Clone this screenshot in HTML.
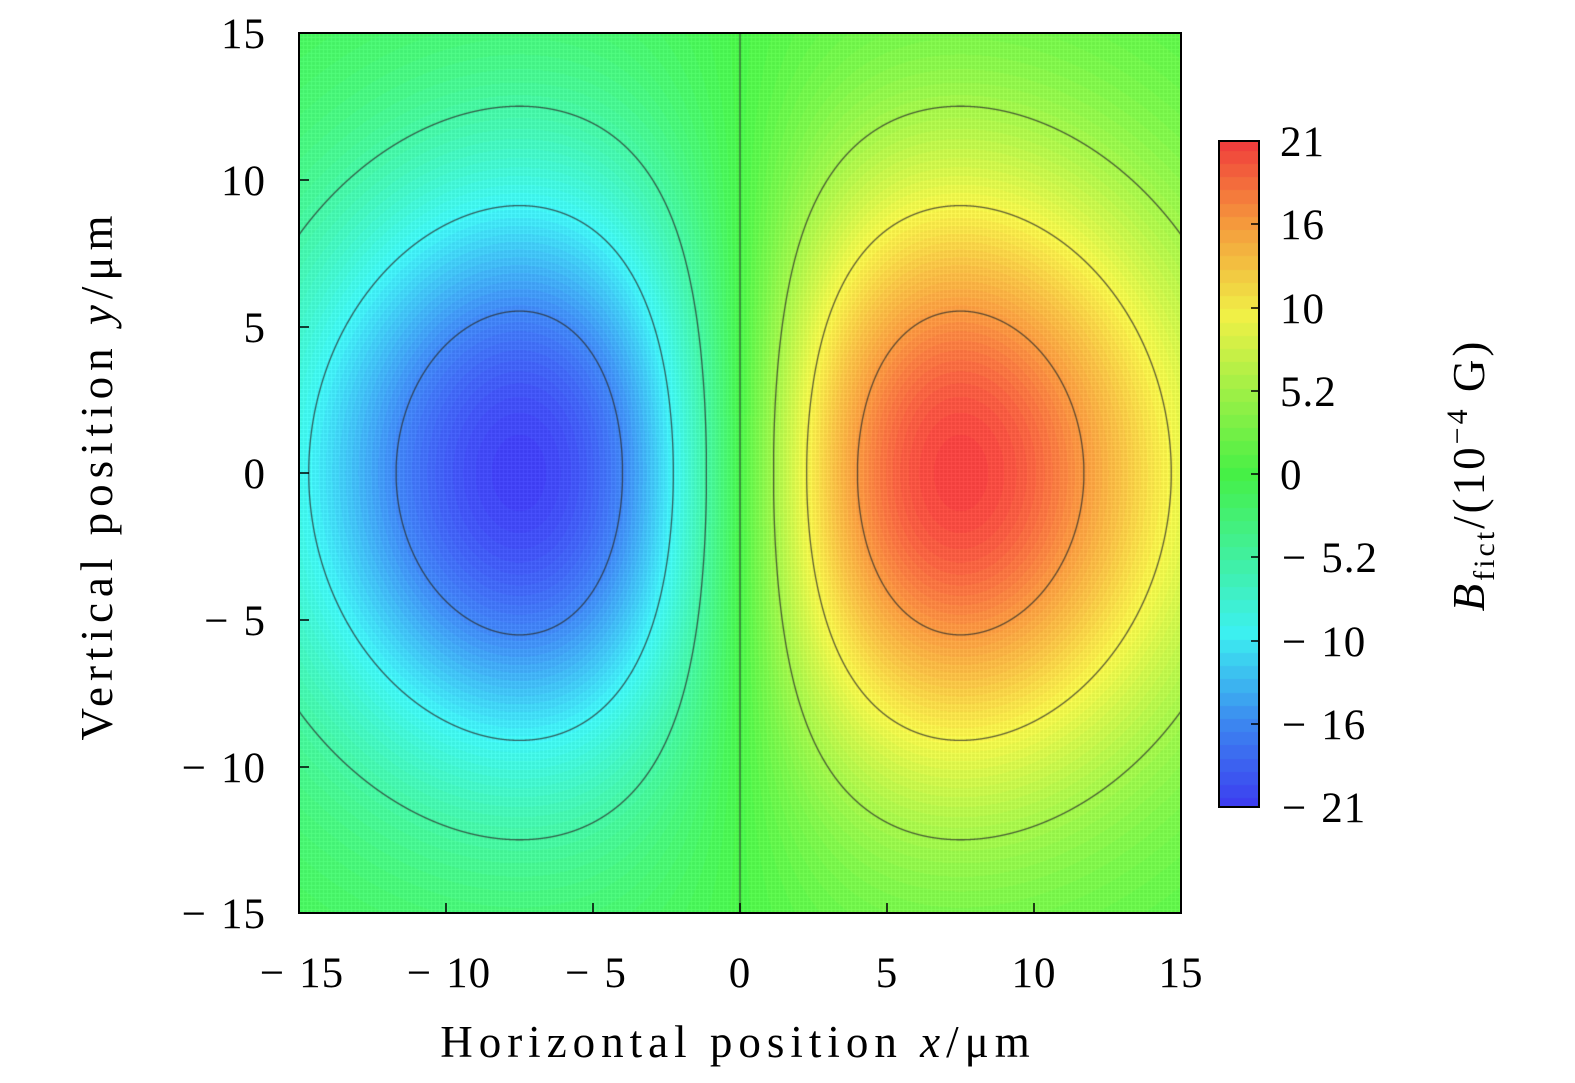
<!DOCTYPE html>
<html><head><meta charset="utf-8"><style>
html,body{margin:0;padding:0;background:#fff;width:1575px;height:1083px;overflow:hidden}
#c{position:absolute;left:299px;top:33px}
#cb{position:absolute;left:1219px;top:141px}
svg{position:absolute;left:0;top:0}
text{font-family:"Liberation Serif",serif;font-size:43px;fill:#000;letter-spacing:1px}
.t{letter-spacing:6px;font-size:45px}
</style></head><body>
<canvas id="c" width="882" height="880"></canvas>
<canvas id="cb" width="40" height="666"></canvas>
<svg width="1575" height="1083">
<rect x="299" y="33" width="882" height="880" fill="none" stroke="#000" stroke-width="2"/>
<rect x="1219" y="141" width="40" height="666" fill="none" stroke="#000" stroke-width="2"/>
<g stroke="#000" stroke-width="1.5">
<line x1="299" y1="913" x2="299" y2="903"/><line x1="446" y1="913" x2="446" y2="903"/><line x1="593" y1="913" x2="593" y2="903"/><line x1="740" y1="913" x2="740" y2="903"/><line x1="887" y1="913" x2="887" y2="903"/><line x1="1034" y1="913" x2="1034" y2="903"/><line x1="1181" y1="913" x2="1181" y2="903"/>
<line x1="299" y1="33" x2="309" y2="33"/><line x1="299" y1="180" x2="309" y2="180"/><line x1="299" y1="327" x2="309" y2="327"/><line x1="299" y1="473" x2="309" y2="473"/><line x1="299" y1="620" x2="309" y2="620"/><line x1="299" y1="767" x2="309" y2="767"/><line x1="299" y1="913" x2="309" y2="913"/>
<line x1="1259" y1="141" x2="1251" y2="141"/><line x1="1259" y1="224" x2="1251" y2="224"/><line x1="1259" y1="308" x2="1251" y2="308"/><line x1="1259" y1="391" x2="1251" y2="391"/><line x1="1259" y1="474" x2="1251" y2="474"/><line x1="1259" y1="557" x2="1251" y2="557"/><line x1="1259" y1="641" x2="1251" y2="641"/><line x1="1259" y1="724" x2="1251" y2="724"/><line x1="1259" y1="807" x2="1251" y2="807"/>
</g>
<g text-anchor="middle">
<text x="302" y="987">−<tspan dx="14">15</tspan></text><text x="449" y="987">−<tspan dx="14">10</tspan></text><text x="596" y="987">−<tspan dx="14">5</tspan></text><text x="740" y="987">0</text><text x="887" y="987">5</text><text x="1034" y="987">10</text><text x="1181" y="987">15</text>
</g>
<g text-anchor="end">
<text x="266" y="48">15</text><text x="266" y="195">10</text><text x="266" y="342">5</text><text x="266" y="488">0</text><text x="266" y="635">−<tspan dx="14">5</tspan></text><text x="266" y="782">−<tspan dx="14">10</tspan></text><text x="266" y="928">−<tspan dx="14">15</tspan></text>
</g>
<g>
<text x="1280" y="156">21</text><text x="1280" y="239">16</text><text x="1280" y="323">10</text><text x="1280" y="406">5.2</text><text x="1280" y="489">0</text><text x="1282" y="572">−<tspan dx="14">5.2</tspan></text><text x="1282" y="656">−<tspan dx="14">10</tspan></text><text x="1282" y="739">−<tspan dx="14">16</tspan></text><text x="1282" y="822">−<tspan dx="14">21</tspan></text>
</g>
<text class="t" x="738" y="1057" text-anchor="middle">Horizontal position <tspan font-style="italic">x</tspan>/μm</text>
<text class="t" transform="translate(112,475) rotate(-90)" text-anchor="middle">Vertical position <tspan font-style="italic">y</tspan>/μm</text>
<text transform="translate(1484,475) rotate(-90)" text-anchor="middle" style="font-size:45px;letter-spacing:3px"><tspan font-style="italic">B</tspan><tspan font-size="30" dy="10">fict</tspan><tspan dy="-10">/(10</tspan><tspan font-size="30" dy="-17">−4</tspan><tspan dy="17"> G)</tspan></text>
</svg>
<script>
var stops=[[-21,[60,60,240]],[-16,[60,130,240]],[-10,[60,240,240]],[0,[70,240,70]],[10,[240,240,70]],[16,[245,150,60]],[21,[240,60,60]]];
function col(v){if(v<=-21)return stops[0][1];for(var i=0;i<stops.length-1;i++){var a=stops[i],b=stops[i+1];if(v<=b[0]){var t=(v-a[0])/(b[0]-a[0]);return[a[1][0]+t*(b[1][0]-a[1][0]),a[1][1]+t*(b[1][1]-a[1][1]),a[1][2]+t*(b[1][2]-a[1][2])];}}return stops[stops.length-1][1];}
var S2=56;
function g(x){var u=x/7.5;return u*Math.exp(0.5*(1-u*u));}
function f(x,y){return 21*g(x)*Math.exp(-y*y/(2*S2));}
var c=document.getElementById('c'),ctx=c.getContext('2d');var W=882,H=880;
var im=ctx.createImageData(W,H);
for(var j=0;j<H;j++){var y=15-30*(j+0.5)/H;for(var i=0;i<W;i++){var x=-15+30*(i+0.5)/W;var v=f(x,y);v=Math.round(v*2.2)/2.2;var k=col(v);var p=(j*W+i)*4;var lt=((i%4==0)||(j%4==0))?14:0;im.data[p]=Math.min(255,k[0]+lt);im.data[p+1]=Math.min(255,k[1]+lt);im.data[p+2]=Math.min(255,k[2]+lt);im.data[p+3]=255;}}
ctx.putImageData(im,0,0);
function px(x){return (x+15)/30*W;}function py(y){return (15-y)/30*H;}
ctx.strokeStyle='rgba(40,40,40,0.75)';ctx.lineWidth=1.3;
[5.2,10,16].forEach(function(L){[1,-1].forEach(function(s){var r=L/21;var up=[],dn=[];for(var k=0;k<=4000;k++){var x=0.01+k*(19.99/4000);var gg=g(x);if(gg<r)continue;var yy=Math.sqrt(-2*S2*Math.log(r/gg));up.push([s*x,yy]);dn.push([s*x,-yy]);}
ctx.beginPath();for(var m=0;m<up.length;m++){var q=up[m];if(m==0)ctx.moveTo(px(q[0]),py(q[1]));else ctx.lineTo(px(q[0]),py(q[1]));}for(var m=dn.length-1;m>=0;m--){var q=dn[m];ctx.lineTo(px(q[0]),py(q[1]));}ctx.closePath();ctx.stroke();});});
ctx.beginPath();ctx.moveTo(px(0),0);ctx.lineTo(px(0),H);ctx.stroke();
var cb=document.getElementById('cb'),cx=cb.getContext('2d');
for(var j=0;j<666;j++){var v=21-42*j/666;v=Math.round(v*1.2)/1.2;var k=col(v);cx.fillStyle='rgb('+Math.round(k[0])+','+Math.round(k[1])+','+Math.round(k[2])+')';cx.fillRect(0,j,40,1);}
</script>
</body></html>
